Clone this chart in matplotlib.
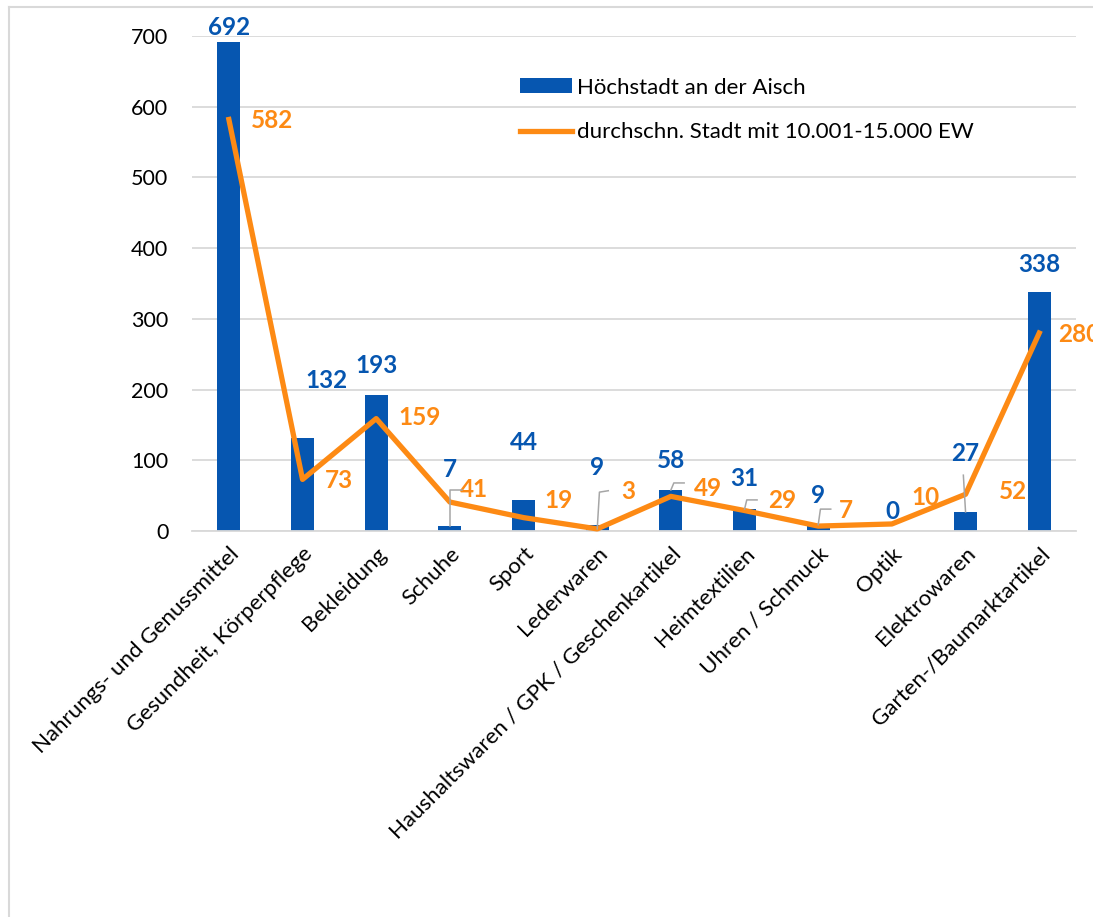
import matplotlib.pyplot as plt
from matplotlib.lines import Line2D
from matplotlib.patches import Patch

categories = ['Nahrungs- und Genussmittel', 'Gesundheit, Körperpflege', 'Bekleidung',
              'Schuhe', 'Sport', 'Lederwaren', 'Haushaltswaren / GPK / Geschenkartikel',
              'Heimtextilien', 'Uhren / Schmuck', 'Optik', 'Elektrowaren',
              'Garten-/Baumarktartikel']
hoechstadt = [692, 132, 193, 7, 44, 9, 58, 31, 9, 0, 27, 338]
durchschnitt = [582, 73, 159, 41, 19, 3, 49, 29, 7, 10, 52, 280]
y_ticks = [0, 100, 200, 300, 400, 500, 600, 700]

label_bar = 'Höchstadt an der Aisch'
label_line = 'durchschn. Stadt mit 10.001-15.000 EW'

BLUE = '#0656b0'
ORANGE = '#fd8a14'
GRID = '#d9d9d9'

plt.rcParams['font.family'] = ['Lato', 'DejaVu Sans']

fig = plt.figure(figsize=(10.93, 9.17), dpi=100)
ax = fig.add_axes([0.1757, 0.4209, 0.8088, 0.5398])

x = list(range(len(categories)))
ax.bar(x, hoechstadt, width=0.31, color=BLUE, zorder=2)
ax.plot(x, durchschnitt, color=ORANGE, linewidth=3.8, zorder=3,
        solid_joinstyle='round', clip_on=False)

ax.set_xlim(-0.5, len(categories) - 0.5)
ax.set_ylim(0, 700)
ax.set_yticks(y_ticks)
ax.yaxis.grid(True, color=GRID, linewidth=1.3, zorder=0)
ax.set_axisbelow(True)
for s in ['top', 'right', 'left']:
    ax.spines[s].set_visible(False)
ax.spines['bottom'].set_color(GRID)
ax.spines['bottom'].set_linewidth(1.3)
ax.tick_params(axis='y', length=0, labelsize=15.5, pad=17)
ax.set_xticks(x)
ax.set_xticklabels(categories, rotation=45, ha='right', rotation_mode='anchor')
ax.tick_params(axis='x', length=0, labelsize=16, pad=9)

# label offsets in points (dx, dy) relative to the bar top / line point
bar_offsets = [(0, 10), (17, 41), (0, 21), (0, 41), (0, 41), (0, 41),
               (0, 21), (0, 22), (0, 21), (0, 14), (0, 42), (0, 20)]
line_offsets = [(31, -1), (26, -1), (31, 1), (17, 9), (25, 12), (22, 27),
                (27, 6), (27, 7), (20, 11), (24, 19), (34, 2), (29, -1)]

for i, v in enumerate(hoechstadt):
    ax.annotate(str(v), (i, v), xytext=bar_offsets[i], textcoords='offset points',
                ha='center', va='center', color=BLUE, fontsize=17.5,
                fontweight='bold', annotation_clip=False)
for i, v in enumerate(durchschnitt):
    ax.annotate(str(v), (i, v), xytext=line_offsets[i], textcoords='offset points',
                ha='center', va='center', color=ORANGE, fontsize=17.5,
                fontweight='bold', annotation_clip=False)

# grey leader lines (data units)
leaders = [
    (3, [(0, 7), (0, 58), (0.17, 58)]),
    (5, [(0, 3), (0.03, 55), (0.15, 57)]),
    (6, [(0, 58), (0.04, 68), (0.18, 68)]),
    (7, [(0, 31), (0.03, 44), (0.17, 44)]),
    (8, [(0, 9), (0.03, 31), (0.17, 31)]),
    (10, [(0, 27), (-0.03, 79)]),
]
for i, pts in leaders:
    ax.plot([i + p[0] for p in pts], [p[1] for p in pts], color='#a6a6a6',
            linewidth=1.1, zorder=4)

handles = [Patch(facecolor=BLUE, label=label_bar),
           Line2D([0], [0], color=ORANGE, linewidth=3.8, label=label_line)]
ax.legend(handles=handles, loc='upper left', bbox_to_anchor=(0.361, 0.934),
          frameon=False, fontsize=16, handlelength=2.35, handleheight=0.65,
          labelspacing=1.12, handletextpad=0.2, borderaxespad=0)

# outer chart frame (partly visible)
fig.add_artist(Line2D([0.0085, 0.0085], [0, 0.9925], color='#d9d9d9',
                      linewidth=1.5, transform=fig.transFigure))
fig.add_artist(Line2D([0.0085, 1.0], [0.9925, 0.9925], color='#d9d9d9',
                      linewidth=1.5, transform=fig.transFigure))

fig.savefig('out.png', dpi=100)
